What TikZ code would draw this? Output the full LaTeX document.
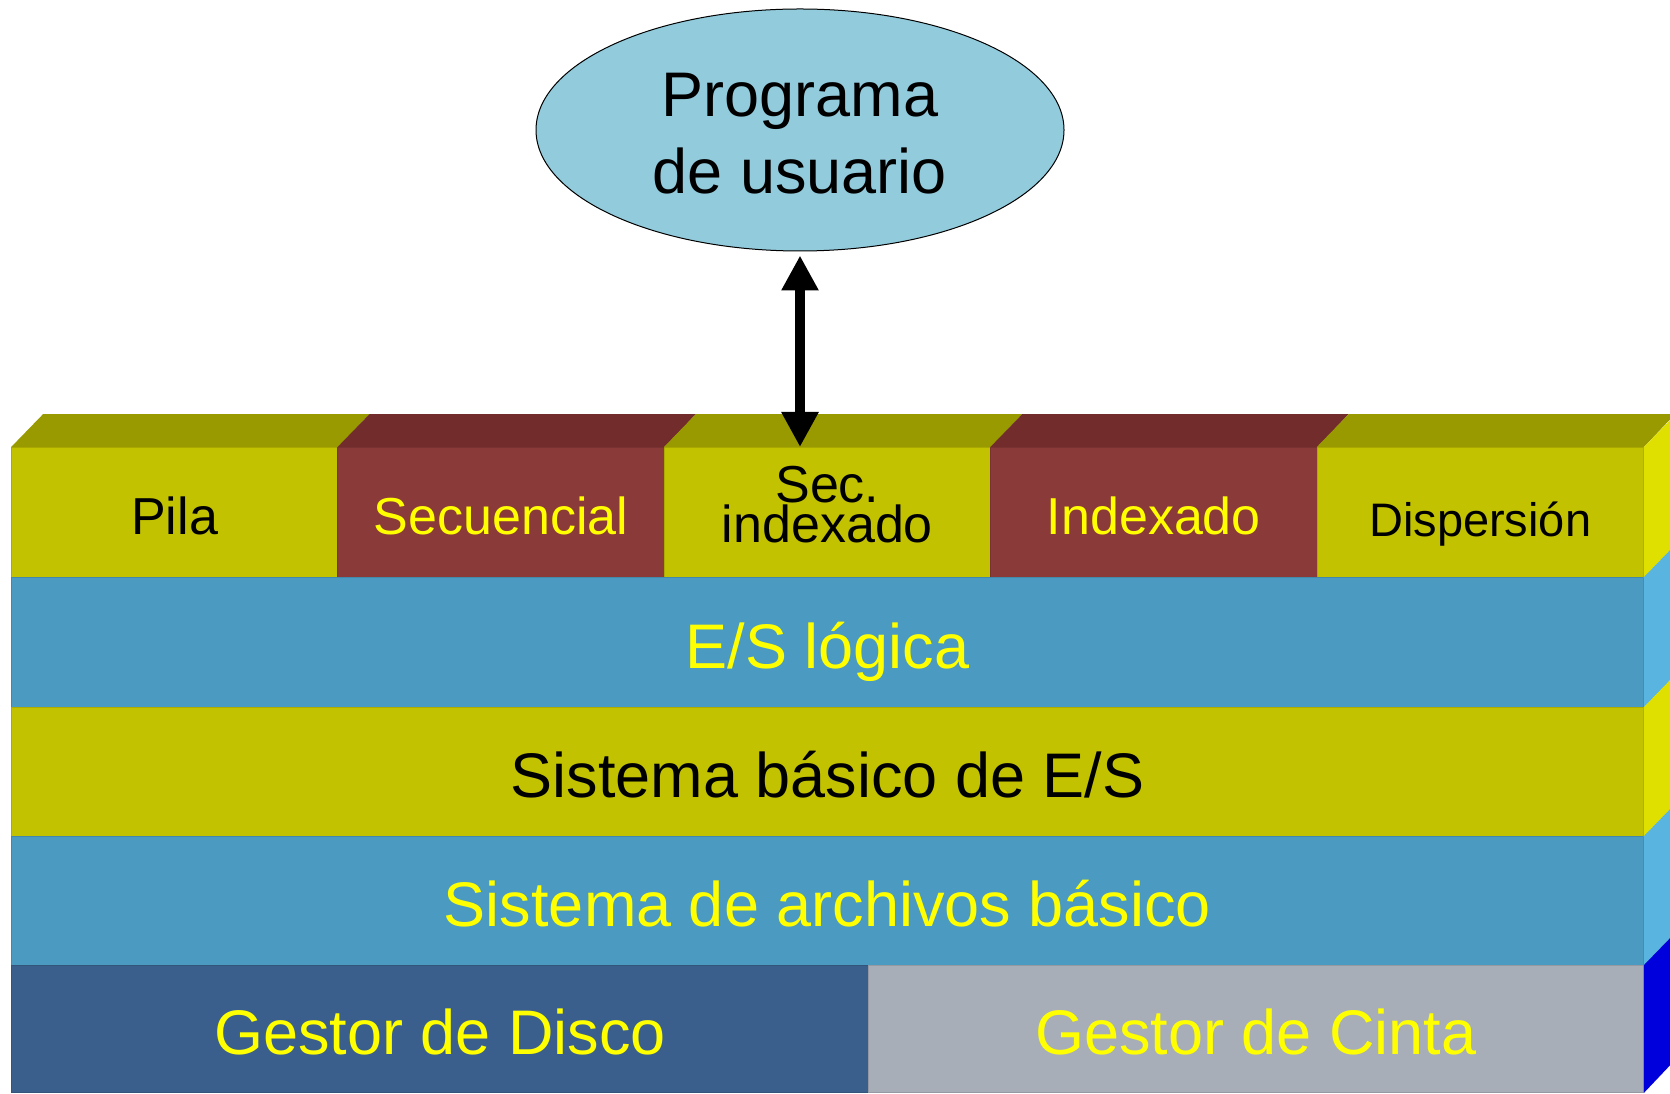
\documentclass[tikz,border=0pt]{standalone}
\usepackage{fontspec}
\setmainfont{Liberation Sans}
\usetikzlibrary{shapes.geometric}
\usetikzlibrary{arrows.meta}
\definecolor{olivefront}{RGB}{194,194,0}
\definecolor{olivetop}{RGB}{153,153,0}
\definecolor{oliveside}{RGB}{224,224,0}
\definecolor{redfront}{RGB}{139,58,58}
\definecolor{redtop}{RGB}{114,44,44}
\definecolor{bluefront}{RGB}{74,154,194}
\definecolor{blueside}{RGB}{90,180,224}
\definecolor{diskfront}{RGB}{58,95,140}
\definecolor{tapefront}{RGB}{168,174,184}
\definecolor{tapeside}{RGB}{0,0,221}
\definecolor{ellfill}{RGB}{146,203,220}
\definecolor{labelyellow}{RGB}{255,255,0}
\tikzset{x=1pt, y=1pt,
cell/.style={ % one face of the stack
rectangle,
anchor=south west,
inner sep=0pt,
minimum height=129pt,
fill=#1,
draw=#1!88!black,
line width=0.8pt},
bigtext/.style={font=\fontsize{63}{75}\selectfont, text height=51pt, text depth=0pt},
midtext/.style={font=\fontsize{52}{38}\selectfont, text height=43pt, text depth=0pt},
smalltext/.style={font=\fontsize{47}{38}\selectfont, text height=48pt, text depth=0pt},
flecha/.style={ % double arrow to the program
line width=10pt,
{Triangle[length=35pt,width=35pt]}-{Triangle[length=35pt,width=35pt]}}}

\begin{document}
\begin{tikzpicture}
	\useasboundingbox (0,0) rectangle (1670,1093);
	% top row
	\node[cell=olivefront, minimum width=326.4pt, minimum height=130pt, midtext] (pila) at (11,515) {Pila};
	\node[cell=redfront, minimum width=326.4pt, minimum height=130pt, midtext, text=labelyellow] (secu) at (337.4,515) {Secuencial};
	\node[cell=olivefront, minimum width=326.4pt, minimum height=130pt, midtext, align=center,
		text height=75pt, text depth=16pt] (secidx) at (663.8,515) {Sec.\\indexado};
	\node[cell=redfront, minimum width=326.4pt, minimum height=130pt, midtext, text=labelyellow] (indexado) at (990.2,515) {Indexado};
	\node[cell=olivefront, minimum width=326.4pt, minimum height=130pt, smalltext] (dispersion) at (1316.6,515) {Dispersión};
	% layers
	\node[cell=bluefront, minimum width=1632pt, minimum height=130pt, bigtext, text=labelyellow] (logica) at (11,385) {E/S lógica};
	\node[cell=olivefront, minimum width=1632pt, bigtext] (basico) at (11,256) {Sistema básico de E/S};
	\node[cell=bluefront, minimum width=1632pt, bigtext, text=labelyellow] (archivos) at (11,127) {Sistema de archivos básico};
	\node[cell=diskfront, minimum width=857pt, minimum height=127pt, bigtext, text=labelyellow] (disco) at (11,0) {Gestor de Disco};
	\node[cell=tapefront, minimum width=775pt, minimum height=127pt, bigtext, text=labelyellow] (cinta) at (868,0) {Gestor de Cinta};
	% top and side faces
	\foreach \c/\col in {pila/olivetop, secu/redtop, secidx/olivetop, indexado/redtop, dispersion/olivetop}
		\fill[\col] (\c.north west) -- ++(32,33) -- ++(326.4,0) -- (\c.north east) -- cycle;
	\foreach \r/\col/\h in {dispersion/oliveside/130, logica/blueside/130, basico/oliveside/129, archivos/blueside/129, cinta/tapeside/127}
		\fill[\col] (\r.north east) -- ++(32,33) -- ++(0,-\h) -- (\r.south east) -- cycle;
	% user program
	\node[ellipse, draw, line width=1pt, fill=ellfill, minimum width=528pt, minimum height=242pt, inner sep=0pt,
		align=center, font=\fontsize{63}{77}\selectfont, text height=128pt, text depth=0pt] (prog) at (800,963) {Programa\\de usuario};
	\coordinate (entry) at (800,646);
	\draw[flecha, shorten <=4pt] (prog.south) -- (entry);
\end{tikzpicture}
\end{document}
